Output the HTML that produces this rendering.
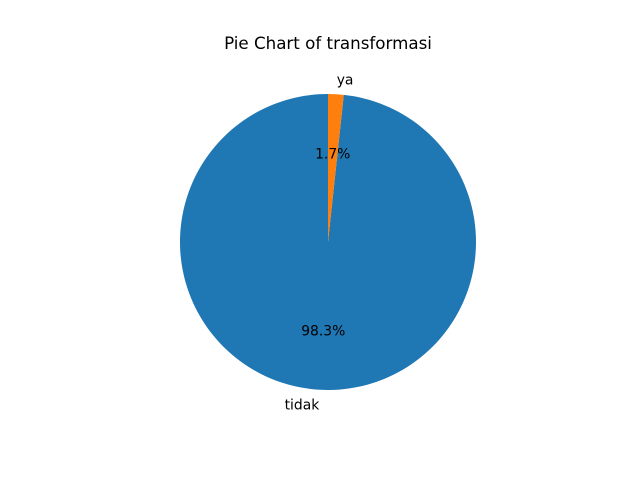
<!DOCTYPE html>
<html><head><meta charset="utf-8"><style>
html,body{margin:0;padding:0;background:#fff;}
svg text{font-family:"DejaVu Sans","Liberation Sans",sans-serif;}
</style></head><body>
<svg id="chart" width="640" height="480" xmlns="http://www.w3.org/2000/svg">
<text x="328" y="49" text-anchor="middle" font-size="16.7" fill="#000">Pie Chart of transformasi</text>
<g id="slices"></g>
</svg>
<script>
const categories = ["tidak", "ya"];
const values = [98.3, 1.7];
const colors = ["#1f77b4", "#ff7f0e"];
const cx = 328, cy = 242, r = 148;
const g = document.getElementById('slices');
const total = values.reduce((a,b)=>a+b,0);
let start = 90;
const ns = "http://www.w3.org/2000/svg";
function pt(a, rr){ const t=a*Math.PI/180; return [cx+rr*Math.cos(t), cy-rr*Math.sin(t)]; }
values.forEach((v,i)=>{
  const sweep = v/total*360;
  const end = start + sweep;
  const [x1,y1]=pt(start,r), [x2,y2]=pt(end,r);
  const large = sweep>180?1:0;
  const p = document.createElementNS(ns,'path');
  p.setAttribute('d',`M${cx},${cy} L${x1},${y1} A${r},${r} 0 ${large} 0 ${x2},${y2} Z`);
  p.setAttribute('fill',colors[i]);
  
  
  g.appendChild(p);
  const mid = start + sweep/2;
  const [lx,ly]=pt(mid,1.1*r);
  const lab = document.createElementNS(ns,'text');
  lab.setAttribute('x',lx); lab.setAttribute('y',ly+5);
  lab.setAttribute('font-size','13.9');
  lab.setAttribute('text-anchor', lx>=cx?'start':'end');
  lab.textContent = categories[i];
  
  
  g.appendChild(lab);
  const [px,py]=pt(mid,0.6*r);
  const pc = document.createElementNS(ns,'text');
  pc.setAttribute('x',px); pc.setAttribute('y',py+5);
  pc.setAttribute('font-size','13.9');
  pc.setAttribute('text-anchor','middle');
  pc.textContent = (v/total*100).toFixed(1)+'%';
  
  
  g.appendChild(pc);
  start = end;
});
</script>
</body></html>
